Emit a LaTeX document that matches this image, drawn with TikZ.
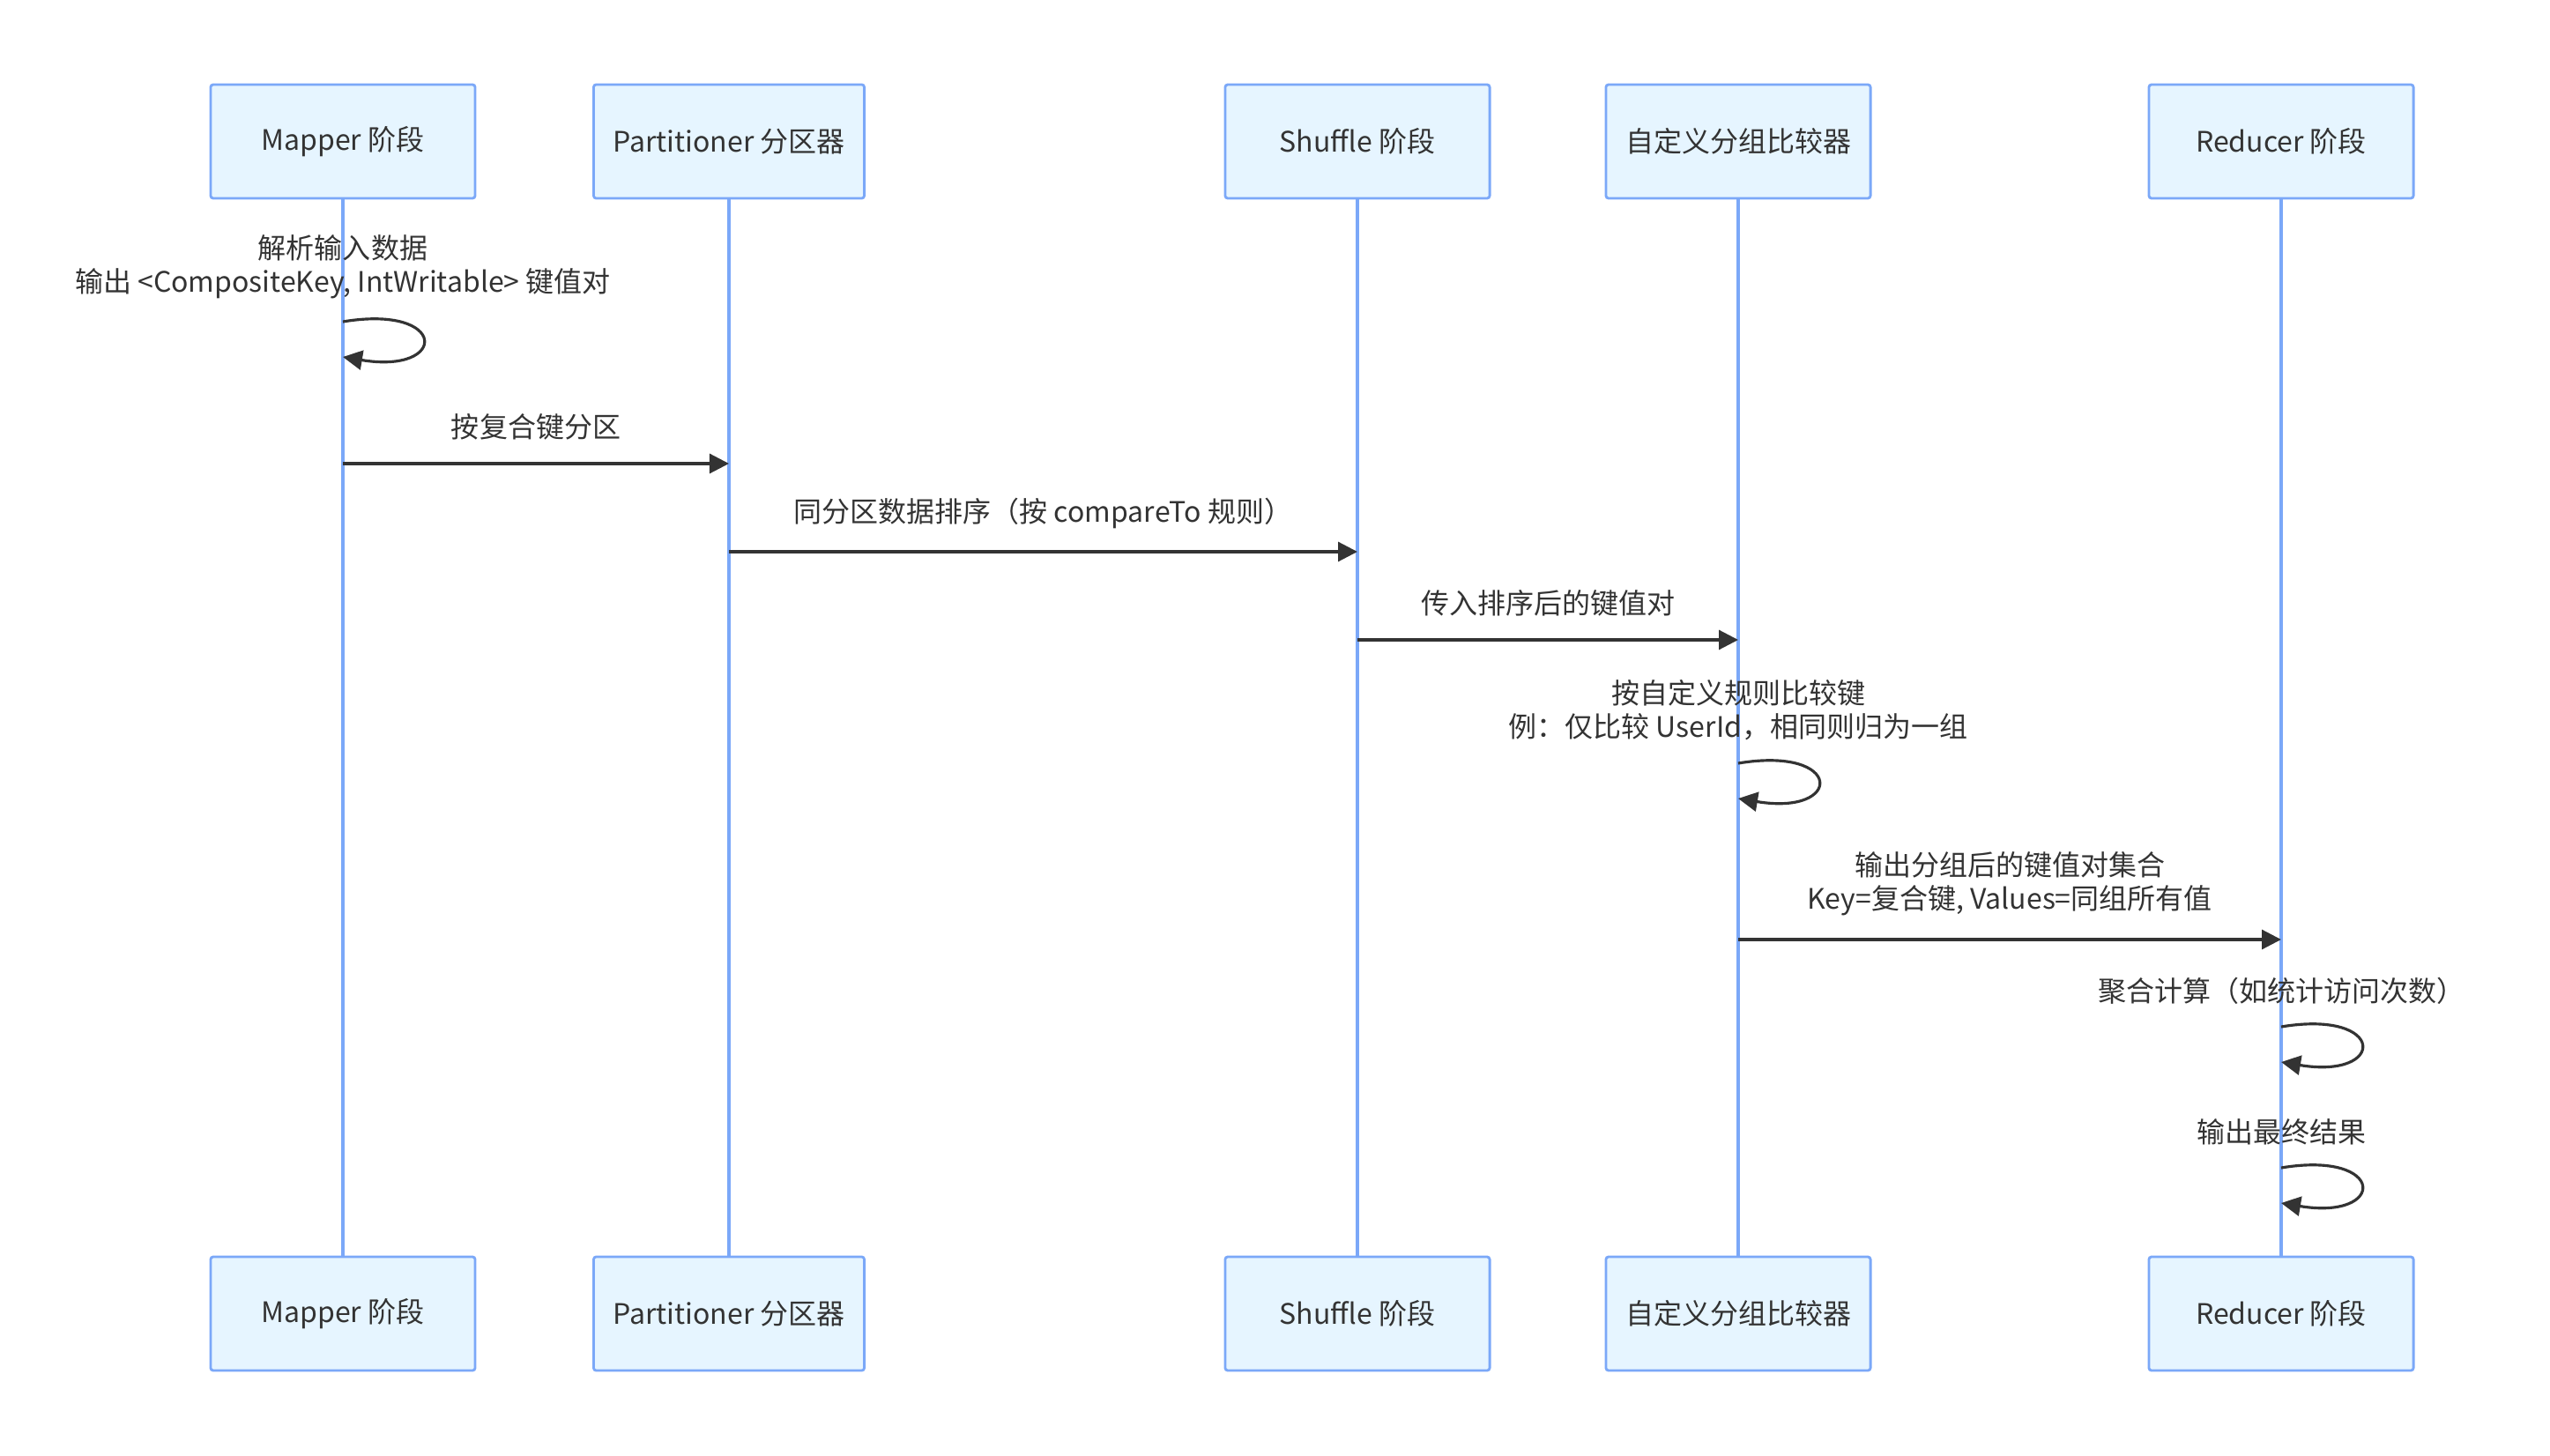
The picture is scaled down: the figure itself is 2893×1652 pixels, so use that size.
\documentclass[tikz,border=0pt]{standalone}
\usepackage{fontspec}
\setmainfont{Noto Sans CJK SC}
\usetikzlibrary{arrows.meta,calc}
\definecolor{boxfill}{HTML}{E6F5FF}
\definecolor{boxline}{HTML}{7BA8F8}
\definecolor{ink}{HTML}{333333}

\begin{document}
\begin{tikzpicture}[x=0.01cm,y=-0.01cm,font=\fontsize{9.1pt}{10.9pt}\selectfont,text=ink,
  actor/.style={draw=boxline,fill=boxfill,line width=0.8pt,rounded corners=0.03cm,
    minimum width=3cm,minimum height=1.29cm,inner sep=0pt},
  life/.style={draw=boxline,line width=1pt},
  msg/.style={draw=ink,line width=0.9pt,-{Triangle[length=0.22cm,width=0.22cm]}},
  say/.style={midway,above=0.25cm,inner sep=0pt,align=center}]

\useasboundingbox (0,0) rectangle (2893,1652);

% participants
\node[actor] (mapTop) at (389,160.5) {Mapper 阶段};
\node[actor,minimum width=3.07cm] (partTop) at (827,160.5) {Partitioner 分区器};
\node[actor] (shufTop) at (1540,160.5) {Shuffle 阶段};
\node[actor] (grpTop) at (1972,160.5) {自定义分组比较器};
\node[actor] (redTop) at (2588,160.5) {Reducer 阶段};

\node[actor] (mapBot) at (389,1490.5) {Mapper 阶段};
\node[actor,minimum width=3.07cm] (partBot) at (827,1490.5) {Partitioner 分区器};
\node[actor] (shufBot) at (1540,1490.5) {Shuffle 阶段};
\node[actor] (grpBot) at (1972,1490.5) {自定义分组比较器};
\node[actor] (redBot) at (2588,1490.5) {Reducer 阶段};

% lifelines
\foreach \p in {map,part,shuf,grp,red}
  \draw[life] (\p Top.south) -- (\p Bot.north);

% Mapper self message
\coordinate (s1) at (mapTop |- 0,365);
\coordinate (e1) at (mapTop |- 0,405);
\node[inner sep=0pt,align=center,anchor=south] (t1) at ($(s1)+(0,-25)$) {解析输入数据\\输出 <CompositeKey, IntWritable> 键值对};
\draw[msg] (s1) .. controls ($(s1)+(120,-20)$) and ($(e1)+(120,20)$) .. (e1);

% Mapper -> Partitioner
\draw[msg] (mapTop |- 0,526) -- (partTop |- 0,526) node[say] {按复合键分区};

% Partitioner -> Shuffle
\draw[msg] (partTop |- 0,626) -- (shufTop |- 0,626) node[say] {同分区数据排序（按 compareTo 规则）};

% Shuffle -> grouping comparator
\draw[msg] (shufTop |- 0,726) -- (grpTop |- 0,726) node[say] {传入排序后的键值对};

% grouping comparator self message
\coordinate (s2) at (grpTop |- 0,866);
\coordinate (e2) at (grpTop |- 0,906);
\node[inner sep=0pt,align=center,anchor=south] (t2) at ($(s2)+(0,-25)$) {按自定义规则比较键\\例：仅比较 UserId，相同则归为一组};
\draw[msg] (s2) .. controls ($(s2)+(120,-20)$) and ($(e2)+(120,20)$) .. (e2);

% grouping comparator -> Reducer
\draw[msg] (grpTop |- 0,1066) -- (redTop |- 0,1066) node[say] {输出分组后的键值对集合\\Key=复合键, Values=同组所有值};

% Reducer self messages
\coordinate (s3) at (redTop |- 0,1165);
\coordinate (e3) at (redTop |- 0,1205);
\node[inner sep=0pt,align=center,anchor=south] (t3) at ($(s3)+(0,-25)$) {聚合计算（如统计访问次数）};
\draw[msg] (s3) .. controls ($(s3)+(120,-20)$) and ($(e3)+(120,20)$) .. (e3);

\coordinate (s4) at (redTop |- 0,1325);
\coordinate (e4) at (redTop |- 0,1365);
\node[inner sep=0pt,align=center,anchor=south] (t4) at ($(s4)+(0,-25)$) {输出最终结果};
\draw[msg] (s4) .. controls ($(s4)+(120,-20)$) and ($(e4)+(120,20)$) .. (e4);

\end{tikzpicture}
\end{document}
